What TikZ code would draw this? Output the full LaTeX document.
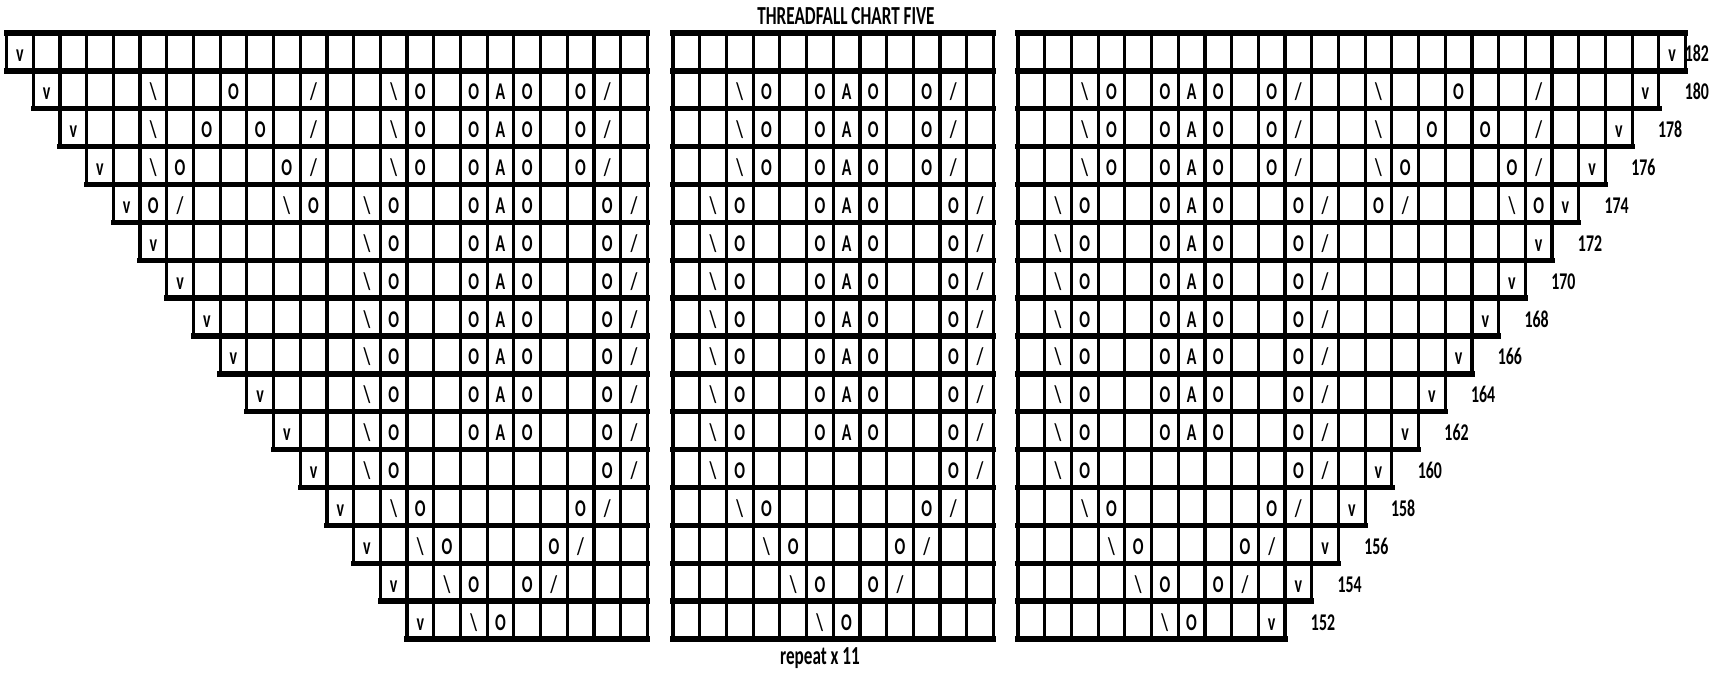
\documentclass[tikz,border=0pt]{standalone}
\usepackage{fontspec}
\setmainfont{Carlito}
\usepackage{graphicx}
\usetikzlibrary{positioning,calc}

\newcommand{\cellw}{26.7}
\newcommand{\cellh}{37.875}
\newcommand{\sq}[1]{\scalebox{0.66}[1]{#1}}
% stitch codes: x blank, v, b = \, s = /, o, a
\newcommand{\knit}[1]{\csname knit#1\endcsname}
\newcommand{\knitx}{}
\newcommand{\knitv}{v}
\newcommand{\knitb}{\textbackslash}
\newcommand{\knits}{/}
\newcommand{\knito}{O}
\newcommand{\knita}{A}

\tikzset{
  knitcell/.style={draw=black,line width=3.2pt,minimum width=\cellw*1pt,
    minimum height=\cellh*1pt,inner sep=0pt,outer sep=0pt,
    text height=20pt,text depth=0pt,font=\fontsize{24}{24}\selectfont\bfseries},
  rowrule/.style={draw=black,line width=5.4pt,line cap=rect},
  rowlbl/.style={inner sep=0pt,text height=20pt,text depth=0pt,
    font=\fontsize{24}{24}\selectfont\bfseries},
  charttitle/.style={anchor=base,inner sep=0pt,font=\fontsize{26}{26}\selectfont\bfseries},
}

\begin{document}
\begin{tikzpicture}[x=1pt,y=-1pt]
  \useasboundingbox (0,0) rectangle (1729,673);

  % left panel
  \foreach \cells [count=\r] in {
    {v,x,x,x,x,x,x,x,x,x,x,x,x,x,x,x,x,x,x,x,x,x,x,x},
    {v,x,x,x,b,x,x,o,x,x,s,x,x,b,o,x,o,a,o,x,o,s,x},
    {v,x,x,b,x,o,x,o,x,s,x,x,b,o,x,o,a,o,x,o,s,x},
    {v,x,b,o,x,x,x,o,s,x,x,b,o,x,o,a,o,x,o,s,x},
    {v,o,s,x,x,x,b,o,x,b,o,x,x,o,a,o,x,x,o,s},
    {v,x,x,x,x,x,x,x,b,o,x,x,o,a,o,x,x,o,s},
    {v,x,x,x,x,x,x,b,o,x,x,o,a,o,x,x,o,s},
    {v,x,x,x,x,x,b,o,x,x,o,a,o,x,x,o,s},
    {v,x,x,x,x,b,o,x,x,o,a,o,x,x,o,s},
    {v,x,x,x,b,o,x,x,o,a,o,x,x,o,s},
    {v,x,x,b,o,x,x,o,a,o,x,x,o,s},
    {v,x,b,o,x,x,x,x,x,x,x,o,s},
    {v,x,b,o,x,x,x,x,x,o,s,x},
    {v,x,b,o,x,x,x,o,s,x,x},
    {v,x,b,o,x,o,s,x,x,x},
    {v,x,b,o,x,x,x,x,x}}{
    \foreach \cell [count=\i] in \cells {
      \node[knitcell] (L-\r-\i) at ({6.5+(\r+\i-1.5)*\cellw},{33+(\r-0.5)*\cellh}) {\sq{\knit{\cell}}};
      \xdef\ncell{\i}
    }
    \draw[rowrule] (L-\r-1.north west) -- (L-\r-\ncell.north east);
    \draw[rowrule] (L-\r-1.south west) -- (L-\r-\ncell.south east);
  }

  % middle panel
  \foreach \cells [count=\r] in {
    {x,x,x,x,x,x,x,x,x,x,x,x},
    {x,x,b,o,x,o,a,o,x,o,s,x},
    {x,x,b,o,x,o,a,o,x,o,s,x},
    {x,x,b,o,x,o,a,o,x,o,s,x},
    {x,b,o,x,x,o,a,o,x,x,o,s},
    {x,b,o,x,x,o,a,o,x,x,o,s},
    {x,b,o,x,x,o,a,o,x,x,o,s},
    {x,b,o,x,x,o,a,o,x,x,o,s},
    {x,b,o,x,x,o,a,o,x,x,o,s},
    {x,b,o,x,x,o,a,o,x,x,o,s},
    {x,b,o,x,x,o,a,o,x,x,o,s},
    {x,b,o,x,x,x,x,x,x,x,o,s},
    {x,x,b,o,x,x,x,x,x,o,s,x},
    {x,x,x,b,o,x,x,x,o,s,x,x},
    {x,x,x,x,b,o,x,o,s,x,x,x},
    {x,x,x,x,x,b,o,x,x,x,x,x}}{
    \foreach \cell [count=\i] in \cells {
      \node[knitcell] (M-\r-\i) at ({673+(\i-0.5)*\cellw},{33+(\r-0.5)*\cellh}) {\sq{\knit{\cell}}};
      \xdef\ncell{\i}
    }
    \draw[rowrule] (M-\r-1.north west) -- (M-\r-\ncell.north east);
    \draw[rowrule] (M-\r-1.south west) -- (M-\r-\ncell.south east);
  }

  % right panel
  \foreach \cells [count=\r] in {
    {x,x,x,x,x,x,x,x,x,x,x,x,x,x,x,x,x,x,x,x,x,x,x,x,v},
    {x,x,b,o,x,o,a,o,x,o,s,x,x,b,x,x,o,x,x,s,x,x,x,v},
    {x,x,b,o,x,o,a,o,x,o,s,x,x,b,x,o,x,o,x,s,x,x,v},
    {x,x,b,o,x,o,a,o,x,o,s,x,x,b,o,x,x,x,o,s,x,v},
    {x,b,o,x,x,o,a,o,x,x,o,s,x,o,s,x,x,x,b,o,v},
    {x,b,o,x,x,o,a,o,x,x,o,s,x,x,x,x,x,x,x,v},
    {x,b,o,x,x,o,a,o,x,x,o,s,x,x,x,x,x,x,v},
    {x,b,o,x,x,o,a,o,x,x,o,s,x,x,x,x,x,v},
    {x,b,o,x,x,o,a,o,x,x,o,s,x,x,x,x,v},
    {x,b,o,x,x,o,a,o,x,x,o,s,x,x,x,v},
    {x,b,o,x,x,o,a,o,x,x,o,s,x,x,v},
    {x,b,o,x,x,x,x,x,x,x,o,s,x,v},
    {x,x,b,o,x,x,x,x,x,o,s,x,v},
    {x,x,x,b,o,x,x,x,o,s,x,v},
    {x,x,x,x,b,o,x,o,s,x,v},
    {x,x,x,x,x,b,o,x,x,v}}{
    \foreach \cell [count=\i] in \cells {
      \node[knitcell] (R-\r-\i) at ({1018+(\i-0.5)*\cellw},{33+(\r-0.5)*\cellh}) {\sq{\knit{\cell}}};
      \xdef\ncell{\i}
    }
    \draw[rowrule] (R-\r-1.north west) -- (R-\r-\ncell.north east);
    \draw[rowrule] (R-\r-1.south west) -- (R-\r-\ncell.south east);
    \pgfmathtruncatemacro\rownum{184-2*\r}
    \pgfmathsetmacro\gap{\r==1 ? 11.3 : 38}
    \node[rowlbl] (num-\r) at ([xshift=\gap pt]R-\r-\ncell.east) {\sq{\rownum}};
  }

  \node[charttitle] (title) at (846,24) {\sq{THREADFALL CHART FIVE}};
  \node[charttitle] (repeat) at (820,664) {\sq{repeat x 11}};
\end{tikzpicture}
\end{document}
